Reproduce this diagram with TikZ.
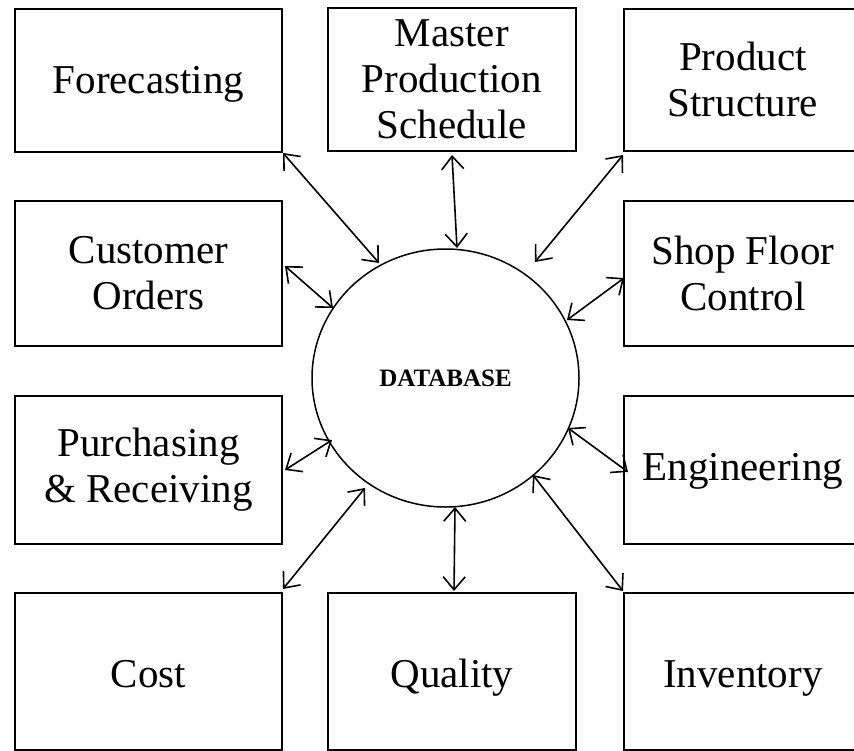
\documentclass[tikz,border=0pt]{standalone}
\usepackage{fontspec}
\setmainfont{Liberation Serif}
\usetikzlibrary{arrows.meta,shapes.geometric}
\begin{document}
\begin{tikzpicture}[x=1pt,y=-1pt,
  box/.style={draw, line width=1.8pt, anchor=north west, inner sep=0pt, align=center,
    font=\fontsize{41}{46}\selectfont},
  hub/.style={draw, ellipse, line width=1.5pt, inner sep=0pt,
    font=\fontsize{25}{28}\selectfont\bfseries},
  link/.style={line width=1.6pt,
    {Straight Barb[length=13pt,width=22pt,line width=1.6pt]}-{Straight Barb[length=13pt,width=22pt,line width=1.6pt]}}]
\useasboundingbox (0,0) rectangle (854,750);
\clip (0,0) rectangle (854,750);
% boxes
\node[box, minimum width=267pt, minimum height=143pt, text height=36pt, text depth=9pt] (fc) at (14,8) {Forecasting};
\node[box, minimum width=248pt, minimum height=143pt] (mps) at (327,7) {Master\\Production\\Schedule};
\node[box, minimum width=238pt, minimum height=142pt] (ps) at (623,8) {Product\\Structure};
\node[box, minimum width=267pt, minimum height=145pt] (co) at (14,200) {Customer\\Orders};
\node[box, minimum width=238pt, minimum height=145pt] (sfc) at (623,200) {Shop Floor\\Control};
\node[box, minimum width=267pt, minimum height=148pt] (pr) at (14,395) {Purchasing\\\& Receiving};
\node[box, minimum width=238pt, minimum height=148pt, text height=31pt, text depth=9pt] (eng) at (623,395) {Engineering};
\node[box, minimum width=267pt, minimum height=157pt, text height=42pt, text depth=9pt] (cost) at (14,592) {Cost};
\node[box, minimum width=248pt, minimum height=157pt, text height=42pt, text depth=9pt] (qual) at (327,592) {Quality};
\node[box, minimum width=238pt, minimum height=157pt, text height=42pt, text depth=9pt] (inv) at (623,592) {Inventory};
% database
\node[hub, minimum width=267pt, minimum height=258pt] (db) at (445.5,378) {DATABASE};
% connector end points
\coordinate (c1a) at (283,153); \coordinate (c1b) at (379,263);
\coordinate (c2a) at (452,155); \coordinate (c2b) at (457,248);
\coordinate (c3a) at (623,155); \coordinate (c3b) at (535,262);
\coordinate (c4a) at (285,266); \coordinate (c4b) at (333,308);
\coordinate (c5a) at (624,278); \coordinate (c5b) at (567,320);
\coordinate (c6a) at (285,470); \coordinate (c6b) at (332,440);
\coordinate (c7a) at (628,472); \coordinate (c7b) at (568,428);
\coordinate (c8a) at (283,589); \coordinate (c8b) at (365,488);
\coordinate (c9a) at (454,591); \coordinate (c9b) at (455,507);
\coordinate (c10a) at (623,591); \coordinate (c10b) at (533,475);
% connectors
\draw[link] (c1a) -- (c1b);
\draw[link] (c2a) -- (c2b);
\draw[link] (c3a) -- (c3b);
\draw[link] (c4a) -- (c4b);
\draw[link] (c5a) -- (c5b);
\draw[link] (c6a) -- (c6b);
\draw[link] (c7a) -- (c7b);
\draw[link] (c8a) -- (c8b);
\draw[link] (c9a) -- (c9b);
\draw[link] (c10a) -- (c10b);
\end{tikzpicture}
\end{document}
